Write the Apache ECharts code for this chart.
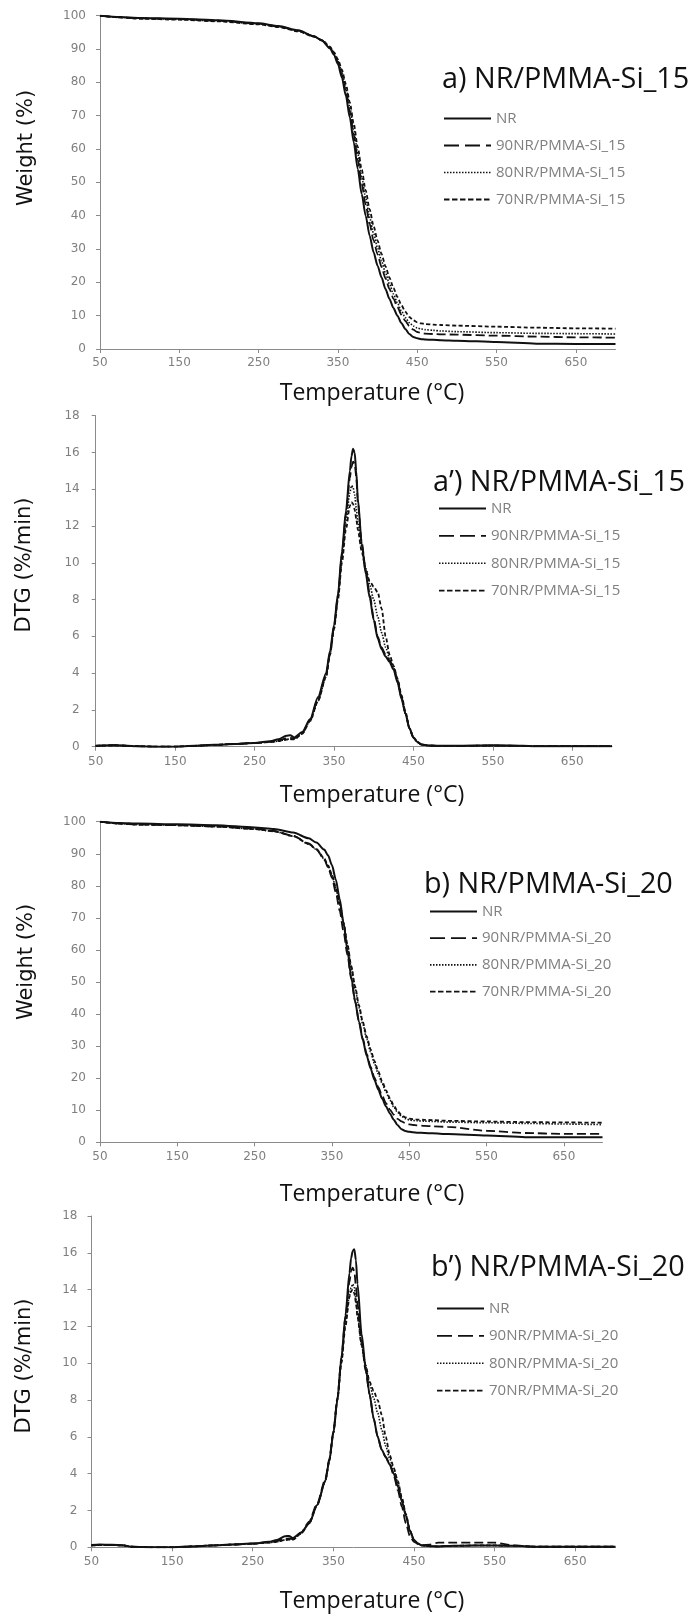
<!DOCTYPE html>
<html>
<head>
<meta charset="utf-8">
<script src="https://cdn.jsdelivr.net/npm/echarts@6/dist/echarts.min.js"></script>
<style>
html,body{margin:0;padding:0;background:#fff;}
#c{width:694px;height:1617px;}
</style>
</head>
<body>
<div id="c"></div>
<script>
// ---------- DATA ----------
const xTicks = [50, 150, 250, 350, 450, 550, 650];
const panelTitles = ["a) NR/PMMA-Si_15", "a\u2019) NR/PMMA-Si_15", "b) NR/PMMA-Si_20", "b\u2019) NR/PMMA-Si_20"];
const namesA = ["NR", "90NR/PMMA-Si_15", "80NR/PMMA-Si_15", "70NR/PMMA-Si_15"];
const namesB = ["NR", "90NR/PMMA-Si_20", "80NR/PMMA-Si_20", "70NR/PMMA-Si_20"];
const yTitles = ["Weight (%)", "DTG (%/min)", "Weight (%)", "DTG (%/min)"];
const xTitle = "Temperature (\u00B0C)";

const tgaT = [50,75,100,150,200,250,275,300,320,330,340,345,350,355,360,365,370,375,380,385,390,395,400,405,410,415,420,425,430,435,440,445,450,455,460,470,480,500,550,600,650,700];

const tgaA_NR   = [100,99.6,99.3,99.1,98.6,97.7,96.9,95.6, 93.8,92.5,90.2,88.3, 85.5,81.5,76,69.5,62,54,46.5,40,34,29,25, 21.5,18,15,12.3,10,7.8,6,4.5,3.6,3.2, 2.95,2.85,2.75,2.65,2.5, 2.1,1.6,1.5,1.5];
const tgaA_90NR = [100,99.5,99.2,99.0,98.5,97.6,96.8,95.5, 93.8,92.6,90.4,88.6, 86.0,82.3,77.3,71.2,64.2,56.8,49.6,43.3,37.5,32.6,28.4, 24.6,21.2,18.0,15.1,12.6,10.3,8.4,6.9,5.8,5.1, 4.8,4.6,4.5,4.4,4.3, 4.0,3.7,3.5,3.4];
const tgaA_80NR = [100,99.5,99.2,98.9,98.4,97.5,96.7,95.4, 93.7,92.6,90.5,88.8, 86.4,83.0,78.4,72.6,65.8,58.6,51.6,45.3,39.5,34.6,30.3, 26.4,22.8,19.5,16.5,13.8,11.4,9.4,7.9,6.9,6.3, 6.0,5.8,5.6,5.4,5.2, 4.9,4.7,4.6,4.5];
const tgaA_70NR = [100,99.5,99.1,98.8,98.3,97.4,96.6,95.3, 93.7,92.7,90.7,89.1, 86.9,83.8,79.5,74.0,67.5,60.6,53.8,47.6,41.9,36.9,32.5, 28.5,24.8,21.4,18.3,15.6,13.2,11.2,9.6,8.6,8.0, 7.7,7.5,7.3,7.2,7.0, 6.7,6.4,6.2,6.1];

const tgaB_NR   = [100,99.6,99.4,99.2,98.9,98.2,97.7,96.6, 94.8,93.5,91.3,89.5, 86.5,82.0,76.0,68.5,60.0,51.5,44.0,37.5,31.8,27.0,23.0, 19.5,16.4,13.6,11.2,9.0,7.0,5.3,4.1,3.5,3.3, 3.1,3.0,2.9,2.8,2.6, 2.1,1.6,1.6,1.6];
const tgaB_90NR = [100,99.4,99.1,98.9,98.5,97.8,97.1,95.6, 93.2,91.4,88.2,85.8, 82.5,78.0,72.3,65.8,58.5,51.0,44.0,37.8,32.3,27.6,23.6, 20.2,17.2,14.5,12.2,10.2,8.6,7.3,6.5,6.0,5.6, 5.4,5.3,5.1,5.0,4.8, 3.6,2.9,2.6,2.6];
const tgaB_80NR = [100,99.4,99.1,98.9,98.5,97.7,97.0,95.5, 93.0,91.3,88.4,86.2, 83.3,79.3,74.2,68.3,61.5,54.5,48.0,42.0,36.8,32.2,28.2, 24.6,21.3,18.3,15.6,13.1,11.0,9.3,8.1,7.4,7.0, 6.8,6.7,6.6,6.5,6.3, 6.1,5.9,5.7,5.5];
const tgaB_70NR = [100,99.4,99.1,98.9,98.5,97.7,97.0,95.5, 93.1,91.4,88.6,86.4, 83.5,79.5,74.5,68.6,61.9,55.0,48.6,42.7,37.5,33.0,29.0, 25.4,22.1,19.0,16.2,13.7,11.5,9.7,8.5,7.8,7.4, 7.2,7.1,7.0,6.9,6.7, 6.5,6.3,6.2,6.1];

const dtgT = [50,60,75,90,100,125,150,175,200,225,250,270,280,290,295,300,310,320,330,340,345,350,355,360,365,370,372,374,376,378,380,385,390,395,400,405,410,415,420,425,430,435,440,445,450,455,460,470,480,500,525,550,575,600,625,650,675,700];

const dtgA_NR   = [0.05,0.07,0.08,0.05,0.03, 0.0,0.0,0.05,0.1,0.15,0.2, 0.3,0.4,0.6,0.62,0.5, 0.8,1.5,2.7,4.0,5.2,6.6,8.3,10.6,12.8,15.0, 15.8,16.2,16.0,15.0,13.5, 11.0,9.4,8.1,6.9,5.9,5.3,4.9,4.6,4.2,3.5, 2.6,1.8,1.0,0.5,0.25,0.12,0.06,0.05,0.05, 0.06,0.08,0.06,0.03,0.03,0.03,0.03,0.03];
const dtgA_90NR = [0.05,0.07,0.08,0.05,0.03, 0.0,0.0,0.05,0.1,0.15,0.2, 0.28,0.35,0.45,0.48,0.45, 0.75,1.45,2.6,3.9,5.1,6.5,8.2,10.4,12.6,14.6, 15.2,15.5,15.4,14.7,13.3, 11.1,9.6,8.3,7.0,6.0,5.4,5.0,4.7,4.3,3.6, 2.7,1.8,1.0,0.5,0.25,0.12,0.06,0.05,0.05, 0.05,0.06,0.05,0.03,0.03,0.03,0.03,0.03];
const dtgA_80NR = [0.05,0.06,0.07,0.05,0.03, 0.0,0.0,0.05,0.1,0.15,0.2, 0.25,0.3,0.4,0.42,0.42, 0.7,1.4,2.5,3.8,5.0,6.4,8.1,10.2,12.2,13.8, 14.2,14.1,13.7,13.0,12.2, 10.9,9.7,8.8,8.0,7.1,6.2,5.4,4.8,4.3,3.6, 2.7,1.8,1.0,0.5,0.25,0.12,0.06,0.05,0.05, 0.05,0.06,0.05,0.03,0.03,0.03,0.03,0.03];
const dtgA_70NR = [0.05,0.06,0.07,0.05,0.03, 0.0,0.0,0.05,0.1,0.15,0.2, 0.25,0.3,0.38,0.4,0.4, 0.7,1.4,2.5,3.8,5.0,6.4,8.0,10.0,11.8,13.1, 13.3,13.2,12.9,12.4,11.8, 10.6,9.6,9.0,8.7,8.4,7.5,6.0,5.0,4.4,3.7, 2.8,1.9,1.0,0.5,0.25,0.12,0.06,0.05,0.05, 0.05,0.06,0.05,0.03,0.03,0.03,0.03,0.03];

const dtgB_NR   = [0.12,0.15,0.14,0.1,0.03, 0.0,0.0,0.05,0.1,0.15,0.2, 0.3,0.4,0.6,0.62,0.5, 0.8,1.3,2.3,3.6,4.7,6.2,8.0,10.3,12.6,14.9, 15.7,16.1,16.2,15.6,14.3, 11.6,9.8,8.3,7.0,6.0,5.3,4.9,4.5,4.0,3.3, 2.5,1.7,0.9,0.4,0.2,0.1,0.06,0.05,0.08, 0.1,0.1,0.08,0.03,0.03,0.03,0.03,0.03];
const dtgB_90NR = [0.1,0.13,0.12,0.1,0.03, 0.0,0.0,0.05,0.1,0.15,0.2, 0.28,0.35,0.45,0.48,0.45, 0.8,1.4,2.4,3.7,4.8,6.3,8.1,10.3,12.5,14.4, 15.0,15.2,15.0,14.2,13.2, 11.2,9.6,8.3,7.0,6.0,5.3,4.9,4.5,3.9,3.1, 2.2,1.3,0.6,0.3,0.18,0.12,0.15,0.25,0.25, 0.25,0.25,0.1,0.04,0.03,0.03,0.03,0.03];
const dtgB_80NR = [0.1,0.12,0.12,0.1,0.03, 0.0,0.0,0.05,0.1,0.15,0.2, 0.25,0.3,0.4,0.42,0.42, 0.75,1.3,2.3,3.6,4.7,6.2,8.0,10.1,12.2,13.7, 14.1,14.3,14.1,13.5,12.6, 11.0,9.8,8.9,8.1,7.3,6.4,5.5,4.8,4.2,3.5, 2.6,1.8,0.9,0.4,0.2,0.1,0.06,0.05,0.08, 0.1,0.1,0.08,0.03,0.03,0.03,0.03,0.03];
const dtgB_70NR = [0.1,0.12,0.12,0.1,0.03, 0.0,0.0,0.05,0.1,0.15,0.2, 0.25,0.3,0.4,0.42,0.42, 0.75,1.3,2.3,3.6,4.7,6.2,8.0,10.0,12.0,13.6, 13.9,14.0,13.8,13.3,12.5, 11.0,9.9,9.0,8.5,8.0,7.2,6.0,5.0,4.3,3.6, 2.7,1.8,0.9,0.4,0.2,0.1,0.06,0.05,0.08, 0.1,0.1,0.08,0.03,0.03,0.03,0.03,0.03];

// ---------- LAYOUT ----------
const grids = [
  {left: 100, top: 15.7, width: 515.5, height: 333.3},
  {left: 95.7, top: 415.7, width: 516.3, height: 331},
  {left: 100, top: 821.7, width: 502.5, height: 320.6},
  {left: 91.5, top: 1216, width: 524, height: 331.3}
];
const yCfg = [
  {max: 100, interval: 10, margin: 14}, {max: 18, interval: 2, margin: 16},
  {max: 100, interval: 10, margin: 14}, {max: 18, interval: 2, margin: 14}
];
const xLabelMargin = [8, 9, 8.5, 8.5];
const legendPos = [
  {left: 438, top: 106, gap: 12},
  {left: 433, top: 496, gap: 12.4},
  {left: 424, top: 899, gap: 11.7},
  {left: 431, top: 1296, gap: 12.4}
];
const titlePos = [{x: 442, y: 80}, {x: 433, y: 483}, {x: 424, y: 885}, {x: 431, y: 1268}];
const yTitlePos = [{x: 27, y: 148}, {x: 25, y: 565}, {x: 27, y: 962}, {x: 25, y: 1366}];
const xTitleY = [393, 795, 1194, 1601];

const styles = [
  {type: 'solid', width: 2},
  {type: [9, 4], width: 1.8},
  {type: [1.5, 1.5], width: 1.6},
  {type: [4, 2.5], width: 1.8}
];
const legendDash = ['solid', [15, 6], [1.5, 1.5], [5.5, 2.5]];

const panelData = [
  {x: tgaT, ys: [tgaA_NR, tgaA_90NR, tgaA_80NR, tgaA_70NR], names: namesA},
  {x: dtgT, ys: [dtgA_NR, dtgA_90NR, dtgA_80NR, dtgA_70NR], names: namesA},
  {x: tgaT, ys: [tgaB_NR, tgaB_90NR, tgaB_80NR, tgaB_70NR], names: namesB},
  {x: dtgT, ys: [dtgB_NR, dtgB_90NR, dtgB_80NR, dtgB_70NR], names: namesB}
];

const axisGray = '#8a8a8a';
const labelGray = '#7f7f7f';

const option = {
  backgroundColor: '#fff',
  animation: false,
  grid: grids.map(g => Object.assign({containLabel: false}, g)),
  xAxis: grids.map((g, i) => ({
    type: 'value', gridIndex: i, min: 50, max: 700,
    splitLine: {show: false},
    axisLine: {show: true, lineStyle: {color: axisGray, width: 1}},
    axisTick: {show: true, length: 4, inside: false, lineStyle: {color: axisGray}, customValues: xTicks},
    axisLabel: {color: labelGray, fontFamily: 'DejaVu Sans', fontSize: 12, margin: xLabelMargin[i], customValues: xTicks}
  })),
  yAxis: grids.map((g, i) => ({
    type: 'value', gridIndex: i, min: 0, max: yCfg[i].max, interval: yCfg[i].interval,
    splitLine: {show: false},
    axisLine: {show: true, lineStyle: {color: axisGray, width: 1}},
    axisTick: {show: true, length: 4, lineStyle: {color: axisGray}},
    axisLabel: {color: labelGray, fontFamily: 'DejaVu Sans', fontSize: 12, margin: yCfg[i].margin}
  })),
  legend: panelData.map((p, i) => ({
    orient: 'vertical', left: legendPos[i].left, top: legendPos[i].top,
    data: p.names.map((n, k) => ({name: n, lineStyle: {type: legendDash[k], width: styles[k].width, color: '#111'}})),
    itemWidth: 47, itemHeight: 14, itemGap: legendPos[i].gap,
    selectedMode: false,
    itemStyle: {opacity: 0},
    textStyle: {color: labelGray, fontFamily: 'Open Sans', fontSize: 15}
  })),
  series: [],
  graphic: []
};

panelData.forEach((p, i) => {
  p.ys.forEach((ys, k) => {
    option.series.push({
      type: 'line', name: p.names[k], xAxisIndex: i, yAxisIndex: i,
      data: p.x.map((t, j) => [t, ys[j]]),
      symbol: 'none', smooth: 0.25, smoothMonotone: 'x',
      lineStyle: {color: '#111', width: styles[k].width, type: styles[k].type},
      itemStyle: {color: '#111'},
      z: 10 - k
    });
  });
  option.graphic.push({
    type: 'text', x: titlePos[i].x, y: titlePos[i].y,
    style: {text: panelTitles[i], fill: '#111', font: '28.8px "Open Sans"', align: 'left', verticalAlign: 'middle'}
  });
  option.graphic.push({
    type: 'text', x: yTitlePos[i].x, y: yTitlePos[i].y, rotation: Math.PI / 2,
    style: {text: yTitles[i], fill: '#111', font: '21px "DejaVu Sans"', align: 'center', verticalAlign: 'middle'}
  });
  option.graphic.push({
    type: 'text', x: 372, y: xTitleY[i],
    style: {text: xTitle, fill: '#111', font: '23px "Open Sans"', align: 'center', verticalAlign: 'middle'}
  });
});

const chart = echarts.init(document.getElementById('c'), null, {renderer: 'canvas'});
chart.setOption(option);
</script>
</body>
</html>
